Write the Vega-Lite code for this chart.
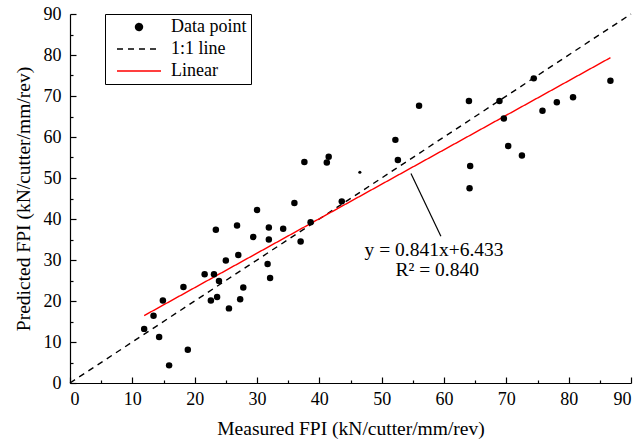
{
  "$schema": "https://vega.github.io/schema/vega-lite/v6.json",
  "width": 561,
  "height": 369,
  "autosize": "none",
  "padding": {"left": 70, "top": 14, "right": 11, "bottom": 60},
  "background": "white",
  "config": {
    "view": {"stroke": null},
    "font": "Liberation Serif",
    "axis": {
      "grid": false,
      "domainColor": "black",
      "domainWidth": 1.2,
      "tickColor": "black",
      "tickWidth": 1.2,
      "labelFont": "Liberation Serif",
      "labelFontSize": 18,
      "labelColor": "black",
      "titleFont": "Liberation Serif",
      "titleFontSize": 19.5,
      "titleFontWeight": "normal",
      "titleColor": "black"
    }
  },
  "datasets": {
    "points": [
      {"x": 11.9, "y": 13.2}, {"x": 13.4, "y": 16.4}, {"x": 14.3, "y": 11.2}, {"x": 14.9, "y": 20.1},
      {"x": 15.9, "y": 4.3}, {"x": 18.9, "y": 8.1}, {"x": 18.2, "y": 23.4}, {"x": 21.6, "y": 26.5},
      {"x": 23.1, "y": 26.5}, {"x": 23.4, "y": 37.4}, {"x": 23.9, "y": 24.9}, {"x": 22.6, "y": 20.1},
      {"x": 23.6, "y": 21.0}, {"x": 25.0, "y": 29.9}, {"x": 25.5, "y": 18.2}, {"x": 26.8, "y": 38.4},
      {"x": 27.0, "y": 31.2}, {"x": 27.3, "y": 20.4}, {"x": 27.8, "y": 23.3}, {"x": 29.4, "y": 35.6},
      {"x": 30.0, "y": 42.2}, {"x": 31.9, "y": 37.9}, {"x": 31.9, "y": 35.0}, {"x": 31.7, "y": 29.0},
      {"x": 32.1, "y": 25.6}, {"x": 34.2, "y": 37.6}, {"x": 36.0, "y": 43.9}, {"x": 37.0, "y": 34.5},
      {"x": 37.6, "y": 53.9}, {"x": 38.6, "y": 39.2}, {"x": 41.2, "y": 53.8}, {"x": 41.5, "y": 55.2},
      {"x": 43.6, "y": 44.3}, {"x": 52.2, "y": 59.3}, {"x": 52.6, "y": 54.4}, {"x": 56.0, "y": 67.6},
      {"x": 64.0, "y": 68.8}, {"x": 64.2, "y": 52.9}, {"x": 64.1, "y": 47.5}, {"x": 68.9, "y": 68.8},
      {"x": 69.6, "y": 64.5}, {"x": 70.3, "y": 57.8}, {"x": 72.5, "y": 55.5}, {"x": 74.4, "y": 74.3},
      {"x": 75.8, "y": 66.4}, {"x": 78.1, "y": 68.5}, {"x": 80.7, "y": 69.7}, {"x": 86.7, "y": 73.7}
    ],
    "small": [{"x": 46.5, "y": 51.4}],
    "lines": [
      {"series": "1:1 line", "x": 0, "y": 0},
      {"series": "1:1 line", "x": 90, "y": 90},
      {"series": "Linear", "x": 11.9, "y": 16.44},
      {"series": "Linear", "x": 86.7, "y": 79.35}
    ],
    "pointer": [{"x": 54.7, "y": 51.1, "x2": 59.5, "y2": 35.8}],
    "labels": [
      {"x": 58.4, "y": 32.4, "text": "y = 0.841x+6.433"},
      {"x": 58.9, "y": 27.5, "text": "R² = 0.840"}
    ]
  },
  "layer": [
    {
      "data": {"name": "lines"},
      "mark": {"type": "line", "strokeWidth": 1.4},
      "encoding": {
        "x": {"field": "x", "type": "quantitative",
              "scale": {"domain": [0, 90], "nice": false},
              "axis": {"values": [0,10,20,30,40,50,60,70,80,90], "tickSize": -6, "labelPadding": 13, "labelFont": "Liberation Serif", "labelFontSize": 18, "title": "Measured FPI (kN/cutter/mm/rev)", "titleFont": "Liberation Serif", "titlePadding": 11, "orient": "bottom"}},
        "y": {"field": "y", "type": "quantitative",
              "scale": {"domain": [0, 90], "nice": false},
              "axis": {"values": [0,10,20,30,40,50,60,70,80,90], "tickSize": -6, "labelPadding": 15, "labelFont": "Liberation Serif", "labelFontSize": 18, "title": "Predicted FPI (kN/cutter/mm/rev)", "titleFont": "Liberation Serif", "titlePadding": 10, "orient": "left"}},
        "color": {"field": "series", "type": "nominal",
                  "scale": {"domain": ["Data point", "1:1 line", "Linear"], "range": ["black", "black", "red"]},
                  "legend": {
                    "title": null, "orient": "none", "legendX": 35, "legendY": 0,
                    "strokeColor": "black", "fillColor": "white", "padding": 4,
                    "labelFont": "Liberation Serif", "labelFontSize": 18, "labelColor": "black",
                    "labelExpr": "datum.label + '\u00a0\u00a0\u00a0'",
                    "labelOffset": 44, "rowPadding": 4, "symbolSize": 100,
                    "encode": {
                      "symbols": {"update": {
                        "shape": {"signal": "datum.value === 'Data point' ? 'M3.5,0A0.7,0.7,0,1,1,4.9,0A0.7,0.7,0,1,1,3.5,0Z' : 'M-0.2,0L8.6,0'"},
                        "size": {"value": 100},
                        "fill": {"signal": "datum.value === 'Data point' ? 'black' : 'transparent'"},
                        "stroke": {"signal": "datum.value === 'Linear' ? 'red' : (datum.value === 'Data point' ? 'transparent' : 'black')"},
                        "strokeDash": {"signal": "datum.value === '1:1 line' ? [6,5] : [1,0]"},
                        "strokeWidth": {"value": 1.4},
                        "opacity": {"value": 1}
                      }}
                    }
                  }},
        "strokeDash": {"field": "series", "type": "nominal",
                       "scale": {"domain": ["Data point", "1:1 line", "Linear"], "range": [[1,0],[6,5],[1,0]]},
                       "legend": null}
      }
    },
    {
      "data": {"name": "points"},
      "mark": {"type": "point", "filled": true, "size": 42, "opacity": 1, "color": "black"},
      "encoding": {
        "x": {"field": "x", "type": "quantitative", "axis": null},
        "y": {"field": "y", "type": "quantitative", "axis": null}
      }
    },
    {
      "data": {"name": "small"},
      "mark": {"type": "point", "filled": true, "size": 10, "opacity": 1, "color": "black"},
      "encoding": {
        "x": {"field": "x", "type": "quantitative", "axis": null},
        "y": {"field": "y", "type": "quantitative", "axis": null}
      }
    },
    {
      "data": {"name": "pointer"},
      "mark": {"type": "rule", "color": "black", "strokeWidth": 1.2},
      "encoding": {
        "x": {"field": "x", "type": "quantitative",
              "axis": {"values": [5,15,25,35,45,55,65,75,85], "labels": false, "domain": false, "tickSize": -3, "title": null, "orient": "bottom"}},
        "y": {"field": "y", "type": "quantitative",
              "axis": {"values": [5,15,25,35,45,55,65,75,85], "labels": false, "domain": false, "tickSize": -3, "title": null, "orient": "left"}},
        "x2": {"field": "x2"},
        "y2": {"field": "y2"}
      }
    },
    {
      "data": {"name": "labels"},
      "mark": {"type": "text", "font": "Liberation Serif", "fontSize": 19.5, "color": "black", "align": "center", "baseline": "middle"},
      "encoding": {
        "x": {"field": "x", "type": "quantitative", "axis": null},
        "y": {"field": "y", "type": "quantitative", "axis": null},
        "text": {"field": "text"}
      }
    }
  ],
  "resolve": {"axis": {"x": "independent", "y": "independent"}}
}
